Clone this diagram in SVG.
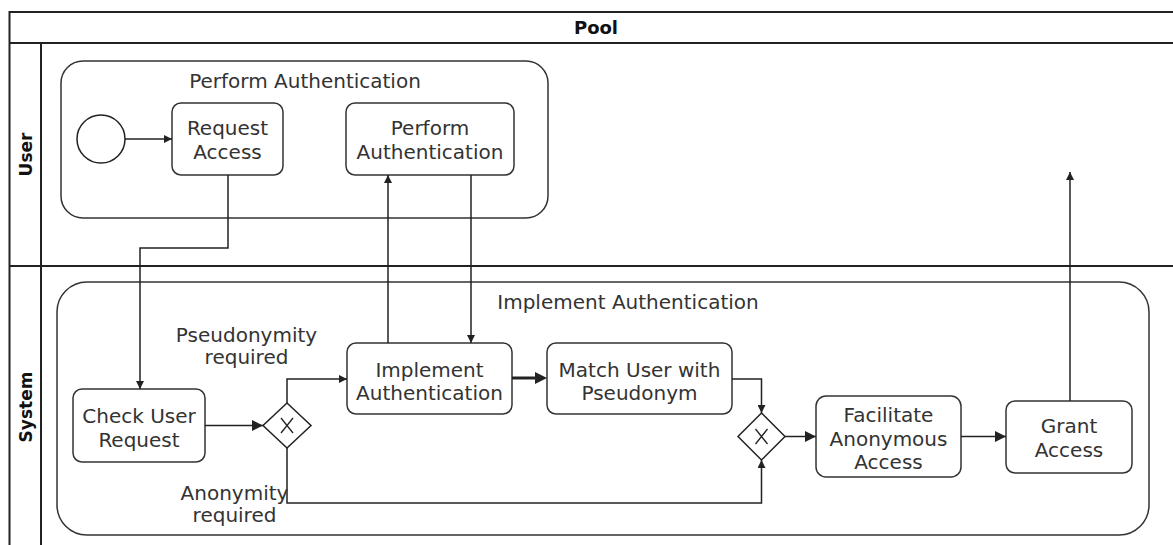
<svg xmlns="http://www.w3.org/2000/svg" width="1173" height="545" viewBox="0 0 1173 545">
<style>
.pool{fill:none;stroke:#222;stroke-width:2}
.sub{fill:#fff;stroke:#333;stroke-width:1.5}
.task{fill:#fff;stroke:#333;stroke-width:1.5}
.gw{fill:#fff;stroke:#222;stroke-width:1.5}
.x{stroke:#222;stroke-width:1.3;fill:none}
.t{font-family:"DejaVu Sans",Verdana,sans-serif;font-size:20px;fill:#333;text-anchor:middle}
.b{font-family:"DejaVu Sans","Liberation Sans",sans-serif;font-weight:bold;fill:#111;text-anchor:middle}
.c{fill:none;stroke:#222;stroke-width:1.5}
.thick{fill:none;stroke:#222;stroke-width:3}
</style>
<defs>
<marker id="arr" viewBox="0 0 10 10" refX="10" refY="5" markerWidth="11" markerHeight="8" markerUnits="userSpaceOnUse" orient="auto"><path d="M0,0 L10,5 L0,10 z" fill="#222"/></marker>
<marker id="arrL" viewBox="0 0 10 10" refX="10" refY="5" markerWidth="13" markerHeight="11" markerUnits="userSpaceOnUse" orient="auto"><path d="M0,0 L10,5 L0,10 z" fill="#222"/></marker>
<marker id="arrB" viewBox="0 0 10 10" refX="0" refY="5" markerWidth="12" markerHeight="12" markerUnits="userSpaceOnUse" orient="auto"><path d="M0,0 L10,5 L0,10 z" fill="#222"/></marker>
</defs>
<rect width="1173" height="545" fill="#fff"/>
<g id="pool">
<rect class="pool" x="9.5" y="12" width="1180" height="536"/>
<line class="pool" x1="9.5" y1="43" x2="1190" y2="43"/>
<line class="pool" x1="9.5" y1="266" x2="1190" y2="266"/>
<line class="pool" x1="41" y1="43" x2="41" y2="548"/>
<text class="b" x="596" y="34" font-size="18">Pool</text>
</g>
<g id="lane-user">
<text class="b" font-size="17" transform="translate(25.5,154.5) rotate(-90)" y="6">User</text>
</g>
<g id="lane-system">
<text class="b" font-size="17" transform="translate(25.5,407) rotate(-90)" y="6">System</text>
</g>
<g id="sub-perform">
<rect class="sub" x="61" y="61" width="487" height="157" rx="22"/>
<text class="t" x="305" y="88">Perform Authentication</text>
</g>
<g id="sub-implement">
<rect class="sub" x="57" y="282" width="1092" height="253" rx="30"/>
<text class="t" x="628" y="309">Implement Authentication</text>
</g>
<g id="start">
<circle cx="101" cy="139" r="24" fill="#fff" stroke="#222" stroke-width="1.5"/>
</g>
<g id="request-access">
<rect class="task" x="172" y="103" width="111" height="72" rx="9"/>
<text class="t" x="227.5" y="135">Request</text>
<text class="t" x="227.5" y="159">Access</text>
</g>
<g id="perform-auth">
<rect class="task" x="346" y="103" width="168" height="72" rx="9"/>
<text class="t" x="430" y="135">Perform</text>
<text class="t" x="430" y="159">Authentication</text>
</g>
<g id="check-user-request">
<rect class="task" x="73" y="389" width="132" height="73" rx="9"/>
<text class="t" x="139" y="423">Check User</text>
<text class="t" x="139" y="447">Request</text>
</g>
<g id="gw1">
<path class="gw" d="M287,403 L311,425.5 L287,448 L263,425.5 Z"/>
<path class="x" d="M281,418 L293,433 M293,418 L281,433"/>
</g>
<g id="implement-auth">
<rect class="task" x="347" y="343" width="165" height="71" rx="9"/>
<text class="t" x="429.5" y="376.5">Implement</text>
<text class="t" x="429.5" y="400">Authentication</text>
</g>
<g id="match-user">
<rect class="task" x="547" y="343" width="185" height="71" rx="9"/>
<text class="t" x="639.5" y="376.5">Match User with</text>
<text class="t" x="639.5" y="400">Pseudonym</text>
</g>
<g id="gw2">
<path class="gw" d="M761.5,413 L785,436.5 L761.5,460 L738,436.5 Z"/>
<path class="x" d="M755.5,429 L767.5,444 M767.5,429 L755.5,444"/>
</g>
<g id="facilitate">
<rect class="task" x="816" y="396" width="145" height="81" rx="10"/>
<text class="t" x="888.5" y="422">Facilitate</text>
<text class="t" x="888.5" y="446">Anonymous</text>
<text class="t" x="888.5" y="469">Access</text>
</g>
<g id="grant-access">
<rect class="task" x="1006" y="401" width="126" height="72" rx="9"/>
<text class="t" x="1069" y="433">Grant</text>
<text class="t" x="1069" y="457">Access</text>
</g>
<g id="connectors">
<path class="c" d="M125,139 L172,139" marker-end="url(#arr)"/>
<path class="c" d="M228,175 L228,248 L140,248 L140,389" marker-end="url(#arr)"/>
<path class="c" d="M205,425.5 L263,425.5" marker-end="url(#arrL)"/>
<path class="c" d="M287,403 L287,379 L347,379" marker-end="url(#arr)"/>
<path class="c" d="M287,448 L287,503 L761.5,503 L761.5,460" marker-end="url(#arr)"/>
<path class="c" d="M388,343 L388,175" marker-end="url(#arr)"/>
<path class="c" d="M471,175 L471,343" marker-end="url(#arr)"/>
<path class="thick" d="M512,378 L535,378" marker-end="url(#arrB)"/>
<path class="c" d="M732,379 L761.5,379 L761.5,413" marker-end="url(#arr)"/>
<path class="c" d="M785,436.5 L816,436.5" marker-end="url(#arrL)"/>
<path class="c" d="M961,436.5 L1006,436.5" marker-end="url(#arrL)"/>
<path class="c" d="M1070,401 L1070,172" marker-end="url(#arr)"/>
<text class="t" x="246.5" y="341.5">Pseudonymity</text>
<text class="t" x="246.5" y="363.5">required</text>
<text class="t" x="234.5" y="500">Anonymity</text>
<text class="t" x="234.5" y="522">required</text>
</g>
</svg>
